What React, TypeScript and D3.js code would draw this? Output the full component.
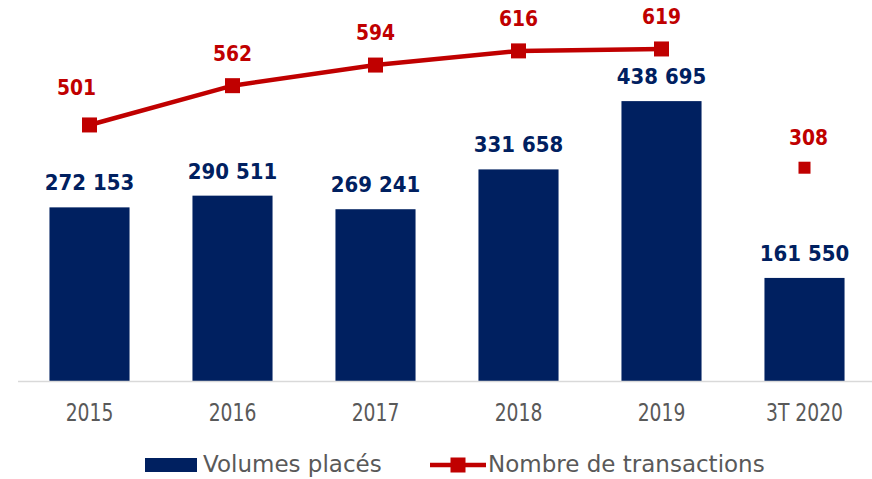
import React from "react";
import * as d3 from "d3";

const categories = ["2015", "2016", "2017", "2018", "2019", "3T 2020"];
const volumes = [272153, 290511, 269241, 331658, 438695, 161550];
const transactions = [501, 562, 594, 616, 619];
const partialTransactions = [{ cat: "3T 2020", value: 308 }];

const navy = "#002060";
const red = "#C00000";
const grey = "#595959";
const font = "'DejaVu Sans', sans-serif";
const fmt = (v: number) => d3.format(",")(v).replace(/,/g, " ");

// digits in the original font are narrow, so squeeze them horizontally
const Squeezed = ({ x, y, sx, children, ...rest }: any) => (
  <text transform={`translate(${x},${y}) scale(${sx},1)`} textAnchor="middle" fontFamily={font} {...rest}>
    {children}
  </text>
);

const App = () => {
  const width = 872,
    height = 479;
  const x = d3.scaleBand().domain(categories).range([18, 876]).paddingInner(0.44).paddingOuter(0.22);
  const y = d3.scaleLinear().domain([0, 500000]).range([381, 62]);
  const yLine = d3.scaleLinear().domain([300, 700]).range([254.4, -3.2]);
  const yPartial = d3.scaleLinear().domain([0, 400]).range([381, 104]);
  const cx = (c: string) => (x(c) as number) + x.bandwidth() / 2;

  const line = d3
    .line<number>()
    .x((d, i) => cx(categories[i]))
    .y((d) => yLine(d));

  const m = 15;

  return (
    <svg width={width} height={height} style={{ position: "absolute", left: 0, top: 0 }}>
      {volumes.map((v, i) => (
        <g key={categories[i]}>
          <rect x={x(categories[i])} y={y(v)} width={x.bandwidth()} height={y(0) - y(v)} fill={navy} />
          <Squeezed x={cx(categories[i])} y={y(v) - 17} sx={0.92} fontWeight="bold" fontSize={21.5} fill={navy}>
            {fmt(v)}
          </Squeezed>
          <Squeezed x={cx(categories[i])} y={421} sx={0.75} fontSize={25} fill={grey}>
            {categories[i]}
          </Squeezed>
        </g>
      ))}
      <line x1={18} x2={872} y1={381.5} y2={381.5} stroke="#D9D9D9" strokeWidth={1.5} />

      <path d={line(transactions) as string} fill="none" stroke={red} strokeWidth={4.5} />
      {transactions.map((v, i) => (
        <g key={"t" + i}>
          <rect x={cx(categories[i]) - m / 2} y={yLine(v) - m / 2} width={m} height={m} fill={red} />
          <Squeezed
            x={cx(categories[i]) + (i === 0 ? -13 : 0)}
            y={yLine(v) - (i === 0 ? 30 : 25)}
            sx={0.87}
            fontWeight="bold"
            fontSize={21.5}
            fill={red}
          >
            {v}
          </Squeezed>
        </g>
      ))}
      {partialTransactions.map((d) => (
        <g key={d.cat}>
          <rect x={cx(d.cat) - 6} y={yPartial(d.value) - 6} width={12} height={12} fill={red} />
          <Squeezed x={cx(d.cat) + 4} y={yPartial(d.value) - 23} sx={0.87} fontWeight="bold" fontSize={21.5} fill={red}>
            {d.value}
          </Squeezed>
        </g>
      ))}

      <g>
        <rect x={145} y={458} width={52} height={14} fill={navy} />
        <text x={203} y={472} fontFamily={font} fontSize={23} fill={grey}>
          Volumes placés
        </text>
        <line x1={430} x2={486} y1={465} y2={465} stroke={red} strokeWidth={4.5} />
        <rect x={458 - m / 2} y={465 - m / 2} width={m} height={m} fill={red} />
        <text x={488} y={472} fontFamily={font} fontSize={23} fill={grey}>
          Nombre de transactions
        </text>
      </g>
    </svg>
  );
};

export default App;
